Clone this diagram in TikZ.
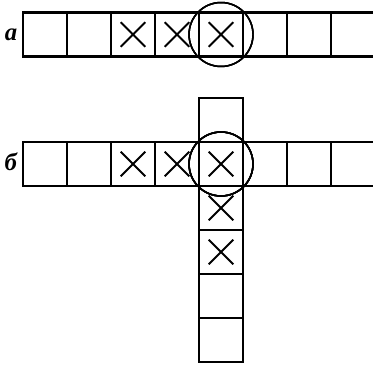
\documentclass[tikz,border=0pt]{standalone}
\usepackage{fontspec}
\setmainfont{Liberation Serif}
\usepackage{tikz}
\tikzset{
    cellbox/.style={line width=1.8pt},
    crossline/.style={line width=1.2pt},
    focusring/.style={line width=0.95pt},
    rowlabel/.style={font=\bfseries\itshape\fontsize{16}{16}\selectfont, inner sep=0pt}
}
% a cross in the cell whose lower left corner is (#1,#2)
\newcommand{\markcell}[2]{%
    \draw[crossline] (#1+0.22,#2+0.22) -- (#1+0.78,#2+0.78)
                     (#1+0.22,#2+0.78) -- (#1+0.78,#2+0.22);}

\begin{document}
\begin{tikzpicture}
    \useasboundingbox (0,0) rectangle (8.477,-8.364);
    % row a
    \begin{scope}[shift={(0.523,-1.284)}]
        \foreach \i in {0,...,7}
            \draw[cellbox] (\i,0) rectangle ++(1,1);
        \foreach \i in {2,3,4}
            \markcell{\i}{0}
        \draw[focusring] (4.5,0.5) circle (0.727);
        \node[rowlabel] (labela) at (-0.27,0.5) {а};
    \end{scope}
    % row b with the column through the marked cell
    \begin{scope}[shift={(0.523,-4.227)}]
        \foreach \i in {0,...,7}
            \draw[cellbox] (\i,0) rectangle ++(1,1);
        \foreach \j in {1,-1,-2,-3,-4}
            \draw[cellbox] (4,\j) rectangle ++(1,1);
        \foreach \i/\j in {2/0,3/0,4/0,4/-1,4/-2}
            \markcell{\i}{\j}
        \draw[focusring] (4.5,0.5) circle (0.727);
        \node[rowlabel] (labelb) at (-0.28,0.55) {б};
    \end{scope}
\end{tikzpicture}
\end{document}
